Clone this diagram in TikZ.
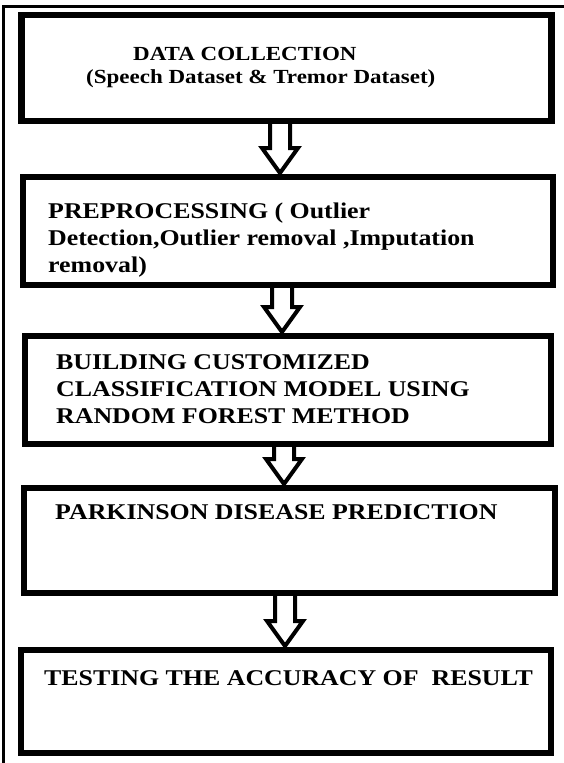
\documentclass[tikz,border=0pt]{standalone}
\usepackage{fontspec}
\setmainfont{Liberation Serif}[FakeStretch=1.15]
\usetikzlibrary{calc, positioning}

\newcommand{\hollowdown}[3]{%
  \draw[hollow] ($(#2.south -| #1)+(-10,3)$) -- ($(#3.north -| #1)+(-10,-29)$)
    -- ++(-8,0) -- ($(#3.north -| #1)+(0,-4)$) -- ($(#3.north -| #1)+(18,-29)$)
    -- ++(-8,0) -- ($(#2.south -| #1)+(10,3)$);}

\begin{document}
\begin{tikzpicture}[x=1pt, y=-1pt,
    box/.style={draw, line width=6.5pt, outer sep=0pt, inner sep=0pt},
    txt/.style={font=\bfseries\fontsize{22.5}{27}\selectfont, align=left, inner sep=0pt, anchor=base west},
    hollow/.style={draw, line width=4pt, line join=miter}]
                        \useasboundingbox (0,0) rectangle (564,763);
                        \draw[line width=3pt] (3.5,770) |- (570,6);
                        \node[box, minimum width=530, minimum height=106] (b1) at (286.5, 68) {};
                        \node[box, minimum width=530, minimum height=108] (b2) at (288, 231) {};
                        \node[box, minimum width=526, minimum height=108] (b3) at (288, 390) {};
                        \node[box, minimum width=531, minimum height=105] (b4) at (289.5, 540.5) {};
                        \node[box, minimum width=530, minimum height=103] (b5) at (286, 701.5) {};
                        \node[txt, font=\bfseries\fontsize{20}{23}\selectfont] (t1) at ($(b1.north west)+(64.5,68)$)
                            {\hspace*{47pt}DATA COLLECTION\\(Speech Dataset \& Tremor Dataset)};
                        \node[txt] (t2) at ($(b2.north west)+(25,95)$)
                            {PREPROCESSING ( Outlier\\Detection,Outlier removal ,Imputation\\removal)};
                        \node[txt] (t3) at ($(b3.north west)+(31,87)$)
                            {BUILDING CUSTOMIZED\\CLASSIFICATION MODEL USING\\RANDOM FOREST METHOD};
                        \node[txt] (t4) at ($(b4.north west)+(31,31)$) {PARKINSON DISEASE PREDICTION};
                        \node[txt] (t5) at ($(b5.north west)+(23,35)$) {TESTING THE ACCURACY OF\ \ RESULT};
                        \coordinate (a1) at (280, 0);
                        \coordinate (a2) at (282, 0);
                        \coordinate (a3) at (284, 0);
                        \coordinate (a4) at (285, 0);
                        \hollowdown{a1}{b1}{b2}
                        \hollowdown{a2}{b2}{b3}
                        \hollowdown{a3}{b3}{b4}
                        \hollowdown{a4}{b4}{b5}
                    \end{tikzpicture}
\end{document}
